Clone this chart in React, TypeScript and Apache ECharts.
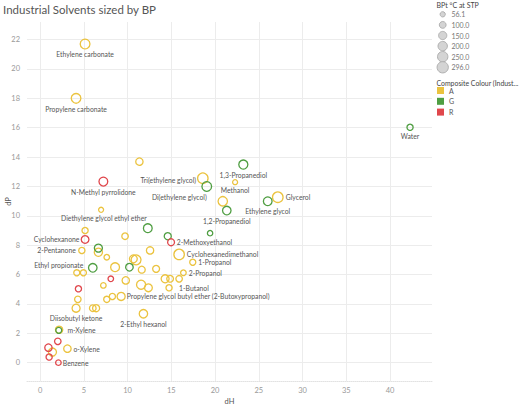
import React, { useEffect, useRef } from "react";
import * as echarts from "echarts";

// ---- data ----
const names: string[] = [
  "Ethylene carbonate", "Propylene carbonate", "", "Tri(ethylene glycol)", "Methanol", "Glycerol", "", "Diethylene glycol ethyl ether",
  "", "", "2-Pentanone", "", "", "", "Cyclohexanedimethanol", "1-Propanol", "", "", "", "", "", "", "", "2-Propanol",
  "", "", "1-Butanol", "", "", "", "", "", "", "", "", "Propylene glycol butyl ether (2-Butoxypropanol)", "Diisobutyl ketone", "", "",
  "2-Ethyl hexanol", "m-Xylene", "", "o-Xylene",
  "Water", "1,3-Propanediol", "Di(ethylene glycol)", "Ethylene glycol", "1,2-Propanediol", "", "", "", "", "Ethyl propionate", "", "",
  "N-Methyl pyrrolidone", "Cyclohexanone", "2-Methoxyethanol", "", "", "", "", "", "Benzene",
];
const dH: number[] = [
  5.14, 4.11, 11.35, 18.6, 22.29, 27.17, 20.88, 6.97,
  5.14, 9.71, 4.77, 6.66, 7.62, 12.57, 15.89, 17.45, 10.66, 10.97, 8.57, 11.62, 13.26, 4.19, 4.95, 16.38,
  14.29, 14.86, 15.89, 9.79, 7.23, 11.54, 12.38, 14.74, 4.31, 7.62, 8.26, 9.26, 4.11, 6.02, 6.4,
  11.81, 2.17, 1.41, 3.12,
  42.29, 23.23, 19.05, 26.02, 21.34, 12.31, 19.43, 14.59, 6.66, 6.02, 10.21, 2.13,
  7.23, 5.14, 14.97, 8.08, 4.38, 2.02, 0.95, 1.03, 2.09,
];
const dP: number[] = [
  21.7, 18.0, 13.69, 12.56, 12.29, 11.27, 10.99, 10.41,
  9.0, 8.61, 7.64, 7.52, 7.18, 7.64, 7.37, 6.84, 7.07, 7.0, 6.5, 6.33, 6.39, 6.12, 6.12, 6.12,
  5.71, 5.71, 5.71, 5.6, 5.26, 5.31, 5.1, 5.1, 4.31, 4.31, 4.51, 4.51, 3.71, 3.71, 3.71,
  3.33, 2.24, 0.72, 0.95,
  16.03, 13.49, 12.0, 10.99, 10.36, 9.16, 8.82, 8.61, 7.8, 6.46, 6.5, 2.2,
  12.33, 8.39, 8.2, 5.71, 5.03, 1.45, 1.02, 0.38, 0.0,
];
const bp: number[] = [
  248, 242, 140, 285, 65, 290, 230, 65,
  100, 110, 102, 175, 80, 140, 283, 97, 160, 255, 205, 125, 125, 95, 95, 82,
  166, 118, 110, 140, 80, 215, 160, 100, 110, 100, 100, 171, 168, 115, 130,
  184, 139, 170, 144,
  100, 214, 245, 197, 188, 200, 75, 130, 170, 190, 150, 90,
  202, 155, 124, 80, 100, 110, 140, 100, 80,
];
const colour: string[] = [
  "A", "A", "A", "A", "A", "A", "A", "A",
  "A", "A", "A", "A", "A", "A", "A", "A", "A", "A", "A", "A", "A", "A", "A", "A",
  "A", "A", "A", "A", "A", "A", "A", "A", "A", "A", "A", "A", "A", "A", "A",
  "A", "A", "A", "A",
  "G", "G", "G", "G", "G", "G", "G", "G", "G", "G", "G", "G",
  "R", "R", "R", "R", "R", "R", "R", "R", "R",
];
const colourCats = ["A", "G", "R"];
const sizeLegendValues = [56.1, 100.0, 150.0, 200.0, 250.0, 296.0];
const xTicks = [0, 5, 10, 15, 20, 25, 30, 35, 40];
const yTicks = [0, 2, 4, 6, 8, 10, 12, 14, 16, 18, 20, 22];

// ---- styling ----
const palette: Record<string, string> = { A: "#EBC33F", G: "#4F9E42", R: "#E0474C" };
const FONT = "Lato, sans-serif";
const sizeOf = (v: number) => 0.62 * Math.sqrt(v);

type Place = { align: "left" | "center" | "right"; offset: [number, number] };
const labelPlace: Record<string, Place> = {
  "Ethylene carbonate": { align: "center", offset: [0, 10.4] },
  "Propylene carbonate": { align: "center", offset: [0, 10.6] },
  "Water": { align: "center", offset: [0, 9] },
  "Tri(ethylene glycol)": { align: "right", offset: [-6.7, 1.3] },
  "1,3-Propanediol": { align: "center", offset: [0, 10] },
  "Methanol": { align: "center", offset: [0, 8.3] },
  "Di(ethylene glycol)": { align: "right", offset: [0, 10.7] },
  "N-Methyl pyrrolidone": { align: "center", offset: [0, 10.7] },
  "Glycerol": { align: "left", offset: [8, 0] },
  "Ethylene glycol": { align: "center", offset: [0, 10] },
  "1,2-Propanediol": { align: "center", offset: [0, 10] },
  "Diethylene glycol ethyl ether": { align: "center", offset: [2.8, 8.4] },
  "Cyclohexanone": { align: "right", offset: [-5.7, 0] },
  "2-Methoxyethanol": { align: "left", offset: [5.7, 0] },
  "2-Pentanone": { align: "right", offset: [-6, 0] },
  "Cyclohexanedimethanol": { align: "left", offset: [7.7, 0] },
  "1-Propanol": { align: "left", offset: [5.6, 0] },
  "Ethyl propionate": { align: "right", offset: [-9.4, -2.3] },
  "2-Propanol": { align: "left", offset: [5.4, 0] },
  "1-Butanol": { align: "left", offset: [0, 9] },
  "Propylene glycol butyl ether (2-Butoxypropanol)": { align: "left", offset: [5.7, 0] },
  "Diisobutyl ketone": { align: "center", offset: [0, 10] },
  "2-Ethyl hexanol": { align: "center", offset: [0, 10] },
  "m-Xylene": { align: "left", offset: [8.3, 0] },
  "o-Xylene": { align: "left", offset: [6, 0] },
  "Benzene": { align: "left", offset: [4.4, 0] },
};

function buildSeries() {
  return colourCats.map((cat) => {
    const data: any[] = [];
    names.forEach((n, i) => {
      if (colour[i] !== cat) return;
      const item: any = { name: n, value: [dH[i], dP[i], bp[i]] };
      const p = n ? labelPlace[n] : undefined;
      if (p) {
        item.label = {
          show: true,
          formatter: n,
          position: "inside",
          align: p.align,
          verticalAlign: "middle",
        };
      }
      data.push(item);
    });
    return {
      name: cat,
      type: "scatter",
      data,
      symbol: "circle",
      symbolSize: (v: number[]) => sizeOf(v[2]),
      itemStyle: { color: "rgba(0,0,0,0)", borderColor: palette[cat], borderWidth: 1.3, opacity: 1 },
      label: { show: false, color: "#555", fontSize: 6.8, fontFamily: FONT },
      labelLayout: (params: any) => {
        const p = labelPlace[params.text];
        if (!p) return {};
        return { dx: p.offset[0], dy: p.offset[1], hideOverlap: false };
      },
      emphasis: { disabled: true },
    };
  });
}

export default function App() {
  const ref = useRef<HTMLDivElement>(null);
  useEffect(() => {
    if (!ref.current) return;
    const chart = echarts.init(ref.current, undefined, { renderer: "svg" });
    const sizeLegend: any[] = [];
    sizeLegendValues.forEach((v, i) => {
      const cy = 14.3 + i * 10.6;
      sizeLegend.push({
        type: "circle",
        shape: { cx: 442.7, cy, r: sizeOf(v) / 2 + 0.3 },
        style: { fill: "#d4d4d4", stroke: "#b0b0b0", lineWidth: 1 },
      });
      sizeLegend.push({
        type: "text",
        x: 451.5,
        y: cy,
        style: { text: v.toFixed(1), fill: "#777", fontSize: 7, fontFamily: FONT, verticalAlign: "middle" },
      });
    });
    chart.setOption({
      animation: false,
      backgroundColor: "#fff",
      textStyle: { fontFamily: FONT },
      title: {
        text: "Industrial Solvents sized by BP",
        left: 3,
        top: 3,
        padding: 0,
        textStyle: { fontSize: 11.5, fontWeight: "normal", color: "#555", fontFamily: FONT },
      },
      grid: { left: 27, right: 88, top: 22, bottom: 27, outerBoundsMode: "none", containLabel: false },
      xAxis: {
        type: "value",
        min: -1.5,
        max: 44.8,
        name: "dH",
        nameLocation: "middle",
        nameGap: 20,
        nameMoveOverlap: false,
        nameTextStyle: { color: "#555", fontSize: 7.5, verticalAlign: "middle" },
        axisLine: { show: true, onZero: false, lineStyle: { color: "#e2e2e2", type: "dotted" } },
        axisTick: { show: false, customValues: xTicks },
        axisLabel: { customValues: xTicks, color: "#999", fontSize: 7.5, margin: 5 },
        splitLine: { show: true, lineStyle: { color: "#ececec", width: 1 } },
      },
      yAxis: {
        type: "value",
        min: -1.25,
        max: 23.2,
        name: "dP",
        nameLocation: "middle",
        nameGap: 19,
        nameMoveOverlap: false,
        nameRotate: 90,
        nameTextStyle: { color: "#555", fontSize: 7.5, verticalAlign: "middle" },
        axisLine: { show: false },
        axisTick: { show: false, customValues: yTicks },
        axisLabel: { customValues: yTicks, color: "#999", fontSize: 7.5, margin: 7 },
        splitLine: { show: true, lineStyle: { color: "#ececec", width: 1 } },
      },
      legend: {
        data: colourCats.map((c) => ({ name: c, itemStyle: { color: palette[c], borderWidth: 0 } })),
        orient: "vertical",
        left: 437,
        top: 87,
        padding: 0,
        icon: "rect",
        itemWidth: 7,
        itemHeight: 7,
        itemGap: 3.8,
        itemStyle: { borderWidth: 0 },
        selectedMode: false,
        textStyle: { color: "#555", fontSize: 7, fontFamily: FONT },
      },
      graphic: [
        {
          type: "text",
          x: 436.5,
          y: 5,
          style: { text: "BPt °C at STP", fill: "#444", fontSize: 7, fontFamily: FONT, verticalAlign: "middle" },
        },
        {
          type: "text",
          x: 436.5,
          y: 82.7,
          style: { text: "Composite Colour (Indust...", fill: "#444", fontSize: 6.9, fontFamily: FONT, verticalAlign: "middle" },
        },
        ...sizeLegend,
      ],
      series: buildSeries(),
    });
    return () => chart.dispose();
  }, []);
  return <div ref={ref} style={{ width: 520, height: 408, position: "absolute", left: 0, top: 0 }} />;
}
